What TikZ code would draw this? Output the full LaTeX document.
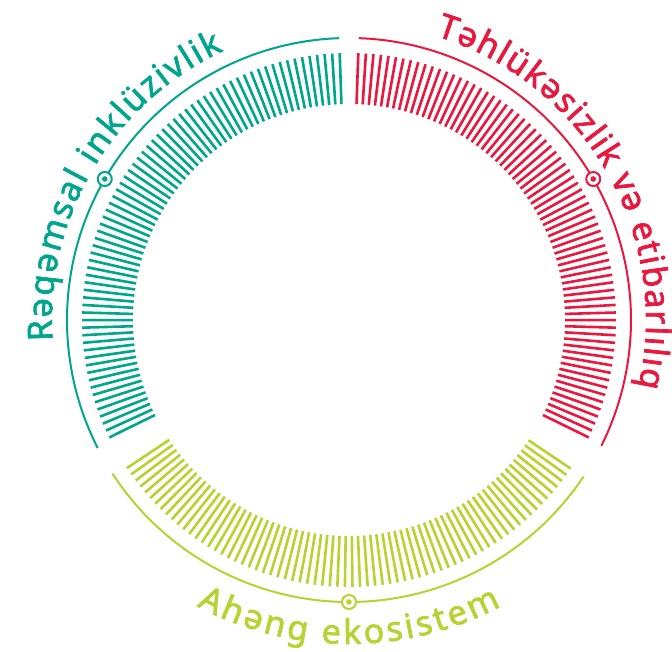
\documentclass[tikz,border=0pt]{standalone}
\usepackage{fontspec}
\setmainfont{Noto Sans}
\usetikzlibrary{decorations.text}

\definecolor{tealseg}{RGB}{0,166,140}
\definecolor{redseg}{RGB}{232,24,62}
\definecolor{limeseg}{RGB}{184,210,50}

\newcommand\arcfont{\fontsize{34}{40}\selectfont\addfontfeature{FakeBold=2}}

\tikzset{
  spoke/.style={line width=2.6pt},
  rim/.style={line width=2pt},
  marker/.style={circle,draw=#1,fill=white,line width=2pt,
    minimum size=14pt,inner sep=0pt,
    path picture={\fill[#1] (path picture bounding box.center) circle (2.8pt);}},
  arclabel/.style 2 args={decorate,decoration={text along path,
    text align=fit to path,text color=#1,text={|\arcfont|#2}}}
}

\begin{document}
\begin{tikzpicture}[x=1pt,y=1pt]
    \clip (-349,-332) rectangle (323,320);

    % ticks
    \foreach \a in {92,93.63,...,207.6}
      \draw[spoke,tealseg] (\a:216pt) -- (\a:267pt);
    \foreach \a in {88,86.37,...,-27.1}
      \draw[spoke,redseg] (\a:216pt) -- (\a:267pt);
    \foreach \a in {213.7,215.33,...,327}
      \draw[spoke,limeseg] (\a:216pt) -- (\a:267pt);

    % outer arcs
    \draw[rim,tealseg] (92:282pt) arc[start angle=92,end angle=207,radius=282pt];
    \draw[rim,redseg] (88:282pt) arc[start angle=88,end angle=-26.5,radius=282pt];
    \draw[rim,limeseg] (213:282pt) arc[start angle=213,end angle=326.3,radius=282pt];

    \node[marker=tealseg] (inc) at (150:282pt) {};
    \node[marker=redseg] (sec) at (30:282pt) {};
    \node[marker=limeseg] (eco) at (270:282pt) {};

    % labels
    \path[arclabel={tealseg}{Rəqəmsal inklüzivlik}]
      (184:297pt) arc[start angle=184,end angle=115,radius=297pt];
    \path[arclabel={redseg}{Təhlükəsizlik və etibarlılıq}]
      (73:297pt) arc[start angle=73,end angle=-13,radius=297pt];
    \path[arclabel={limeseg}{Ahəng ekosistem}]
      (242:324pt) arc[start angle=242,end angle=298,radius=324pt];
\end{tikzpicture}
\end{document}
